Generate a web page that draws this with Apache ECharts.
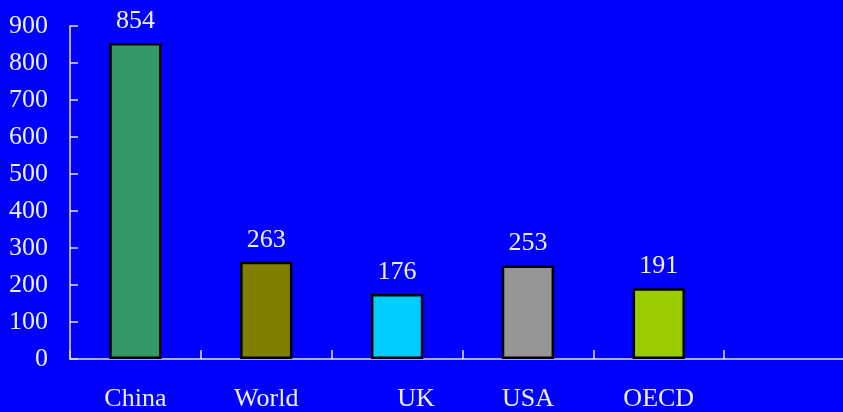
<!DOCTYPE html>
<html>
<head>
<meta charset="utf-8">
<script src="https://cdn.jsdelivr.net/npm/echarts@6/dist/echarts.min.js"></script>
<style>
html,body{margin:0;padding:0;background:#0000ff;overflow:hidden;width:843px;height:412px;}
#chart{width:855px;height:412px;}
</style>
</head>
<body>
<div id="chart"></div>
<script>
const categories = ['China', 'World', 'UK', 'USA', 'OECD', ''];
const values = [854, 263, 176, 253, 191, null];
const barColors = ['#339966', '#808000', '#00ccff', '#969696', '#99cc00', '#000000'];
const yTicks = [0, 100, 200, 300, 400, 500, 600, 700, 800, 900];

const textColor = '#eef0ff';
const fontFamily = '"Liberation Serif", "DejaVu Serif", serif';

const chart = echarts.init(document.getElementById('chart'));
chart.setOption({
  backgroundColor: '#0000ff',
  animation: false,
  grid: { left: 70, right: 0, top: 26, bottom: 53, containLabel: false },
  xAxis: {
    type: 'category',
    data: categories.map(c => c === 'UK' ? { value: c, textStyle: { padding: [0, 0, 0, 38] } } : c),
    axisLine: { show: true, lineStyle: { color: '#e0e0ff', width: 1.5 } },
    axisTick: { show: true, interval: 0, alignWithLabel: false, inside: true, length: 9, lineStyle: { color: '#e0e0ff', width: 1.5 } },
    axisLabel: { color: textColor, fontFamily: fontFamily, fontSize: 26, margin: 27, interval: 0 }
  },
  yAxis: {
    type: 'value',
    min: yTicks[0],
    max: yTicks[yTicks.length - 1],
    interval: 100,
    splitLine: { show: false },
    axisLine: { show: true, lineStyle: { color: '#e0e0ff', width: 1.5 } },
    axisTick: { show: true, inside: true, length: 8, lineStyle: { color: '#e0e0ff', width: 1.5 } },
    axisLabel: { color: textColor, fontFamily: fontFamily, fontSize: 26, margin: 22 }
  },
  series: [{
    type: 'bar',
    barWidth: '40%',
    data: values.map((v, i) => ({
      value: v,
      itemStyle: { color: barColors[i], borderColor: '#000000', borderWidth: 2.5 }
    })),
    label: {
      show: true,
      position: 'top',
      distance: 9,
      color: textColor,
      fontFamily: fontFamily,
      fontSize: 26
    }
  }]
});
</script>
</body>
</html>
